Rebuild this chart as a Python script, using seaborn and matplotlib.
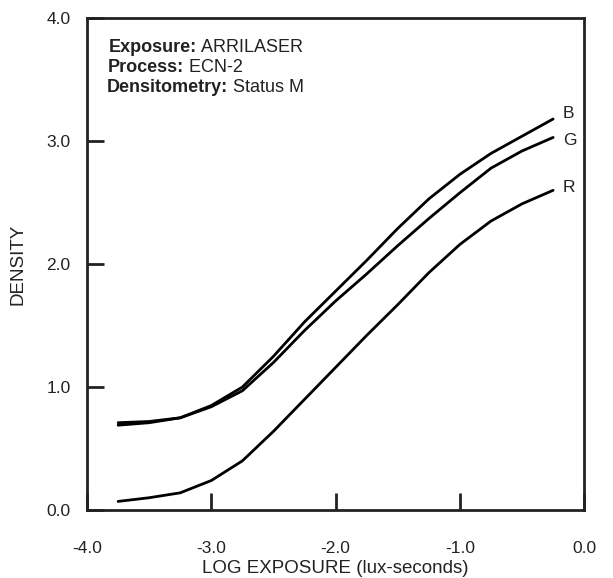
import numpy as np
import pandas as pd
import matplotlib
matplotlib.use("Agg")
import matplotlib.pyplot as plt
import seaborn as sns

# Sensitometric curves
log_exposure = [-3.75, -3.5, -3.25, -3.0, -2.75, -2.5, -2.25, -2.0,
                -1.75, -1.5, -1.25, -1.0, -0.75, -0.5, -0.25]
density_b = [0.71, 0.72, 0.75, 0.85, 1.00, 1.25, 1.53, 1.78,
             2.03, 2.29, 2.53, 2.73, 2.90, 3.04, 3.18]
density_g = [0.69, 0.71, 0.75, 0.84, 0.97, 1.20, 1.46, 1.70,
             1.92, 2.15, 2.37, 2.58, 2.78, 2.92, 3.03]
density_r = [0.07, 0.10, 0.14, 0.24, 0.40, 0.64, 0.90, 1.16,
             1.42, 1.67, 1.93, 2.16, 2.35, 2.49, 2.60]
channels = ["B", "G", "R"]

x_ticks = [-4.0, -3.0, -2.0, -1.0, 0.0]
y_ticks = [0.0, 1.0, 2.0, 3.0, 4.0]

info_lines = [("Exposure:", "ARRILASER"),
              ("Process:", "ECN-2"),
              ("Densitometry:", "Status M")]

df = pd.DataFrame({
    "logE": log_exposure * 3,
    "density": density_b + density_g + density_r,
    "channel": [c for c in channels for _ in log_exposure],
})

sns.set_style("white")
plt.rcParams["font.family"] = ["Liberation Sans", "DejaVu Sans"]

fig = plt.figure(figsize=(6.13, 5.78), dpi=100)
ax = fig.add_axes([0.142, 0.1176, 0.811, 0.851])

sns.lineplot(data=df, x="logE", y="density", units="channel", estimator=None,
             color="black", linewidth=2, ax=ax, legend=False, sort=False)

ax.set_xlim(-4.0, 0.0)
ax.set_ylim(0.0, 4.0)
ax.set_xticks(x_ticks)
ax.set_yticks(y_ticks)
ax.set_xticklabels([f"{v:.1f}" for v in x_ticks])
ax.set_yticklabels([f"{v:.1f}" for v in y_ticks])
ax.tick_params(axis="x", bottom=True, top=False, direction="in", length=12,
               width=2, pad=22, labelsize=12.5, colors="#222222")
ax.tick_params(axis="y", left=True, right=False, direction="in", length=12,
               width=2, pad=12, labelsize=12.5, colors="#222222")
for s in ax.spines.values():
    s.set_linewidth(2)
    s.set_color("#222222")

ax.set_xlabel("LOG EXPOSURE (lux-seconds)", fontsize=13.5, color="#222222", labelpad=3)
ax.set_ylabel("DENSITY", fontsize=13.5, color="#222222", labelpad=14)

# curve labels at the end of each curve
label_offsets = {"B": (7, 4), "G": (7, -2), "R": (7, 2)}
for ch, ys in zip(channels, [density_b, density_g, density_r]):
    ax.annotate(ch, xy=(log_exposure[-1], ys[-1]), xytext=label_offsets[ch],
                textcoords="offset points", fontsize=12.5, color="#222222",
                ha="left", va="center")

# info block
y0 = 0.941
for i, (bold, rest) in enumerate(info_lines):
    t = ax.text(0.043 - i * 0.002, y0 - i * 0.041, bold, transform=ax.transAxes,
                fontsize=13, fontweight="bold", color="#222222", va="center")
    ax.annotate(" " + rest, xy=(1, 0.5), xycoords=t, fontsize=13,
                color="#222222", va="center")

fig.savefig("out.png", dpi=100)
